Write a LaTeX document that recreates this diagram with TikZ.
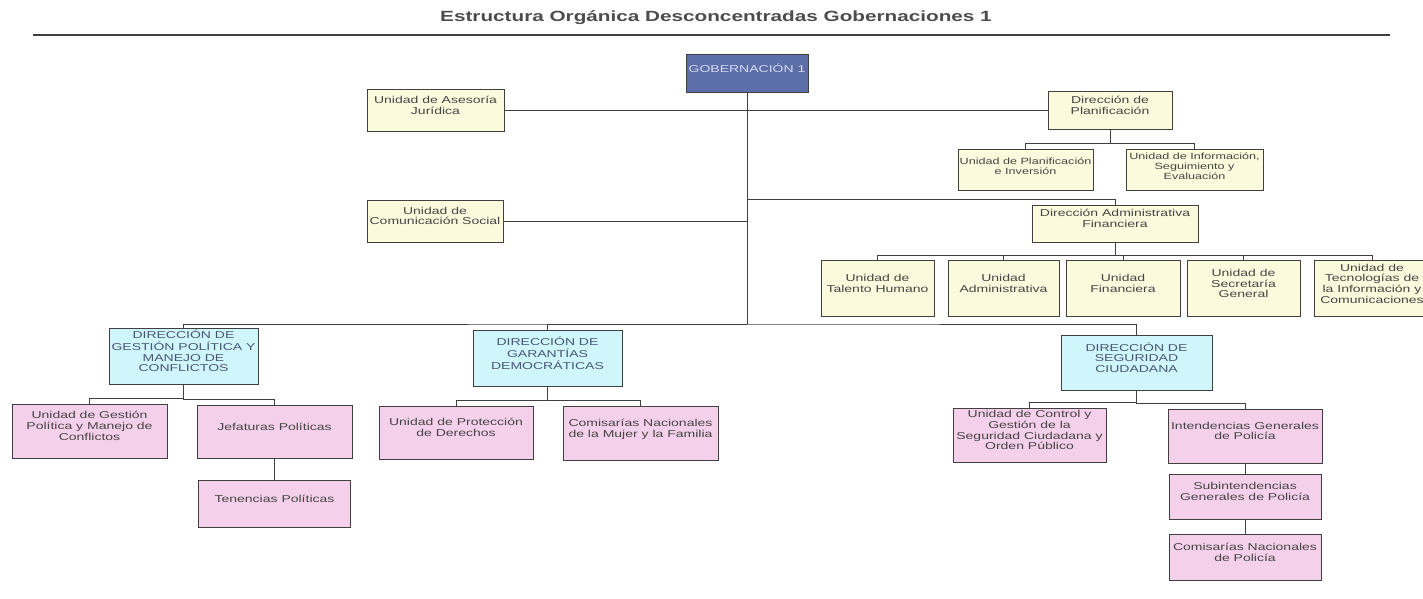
\documentclass[tikz,border=0pt]{standalone}
\usepackage{fontspec}
\setmainfont[FakeStretch=1.4]{Liberation Sans}
\usetikzlibrary{positioning}

\definecolor{govfill}{HTML}{5C6FA8}
\definecolor{govtext}{HTML}{D3DAF4}
\definecolor{unitfill}{HTML}{FCFADC}
\definecolor{dirfill}{HTML}{CFF6FA}
\definecolor{subfill}{HTML}{F5D0EA}
\definecolor{linegray}{HTML}{404040}
\definecolor{textgray}{HTML}{454545}
\definecolor{dirtext}{HTML}{4A5677}

% box text sits a little above the middle of its box
\newcommand{\boxtxt}[2][7pt]{\raisebox{0pt}[\height][\dimexpr\depth+#1\relax]{%
  \begin{tabular}{@{}c@{}}#2\end{tabular}}}

\tikzset{wh/.style 2 args={minimum width=#1pt,minimum height=#2pt}}

\begin{document}
\begin{tikzpicture}[x=1pt,y=-1pt,line width=1pt,color=linegray,node distance=10pt,
                    main node/.style={rectangle,draw=linegray,inner sep=0pt,text=textgray,
                                      font=\fontsize{10}{10.7}\selectfont},
                    unit node/.style={main node,fill=unitfill},
                    dir node/.style={main node,fill=dirfill,text=dirtext},
                    sub node/.style={main node,fill=subfill},
                    small node/.style={unit node,font=\fontsize{9}{10}\selectfont},
                    org/.style={to path={(\tikztostart.south) |- ([yshift=5pt]\tikztotarget.north) -- (\tikztotarget.north)}}]
\useasboundingbox (0,0) rectangle (1423,598);

\node[font=\fontsize{14.8}{16}\selectfont\bfseries,text=black!70] (title) at (716,18)
  {Estructura Orgánica Desconcentradas Gobernaciones 1};
\draw[line width=1.2pt] (33,35) -- (1390,35);

\node[main node,fill=govfill,text=govtext,wh={122}{38}] (1) at (747,73) {\boxtxt{GOBERNACIÓN 1}};
\node[unit node,wh={137}{42}] (2) at (435.5,110.5) {\boxtxt{Unidad de Asesoría\\Jurídica}};
\node[unit node,wh={124}{38}] (3) at (1110,110.5) {\boxtxt{Dirección de\\Planificación}};
\node[small node,wh={135}{41}] (4) at (1025.5,169.5) {\boxtxt[4pt]{Unidad de Planificación\\e Inversión}};
\node[small node,wh={137}{41}] (5) at (1194.5,169.5) {\boxtxt[4pt]{Unidad de Información,\\Seguimiento y\\Evaluación}};
\node[unit node,wh={136}{42}] (6) at (435,221) {\boxtxt{Unidad de\\Comunicación Social}};
\node[unit node,wh={166}{37}] (7) at (1115,223.5) {\boxtxt{Dirección Administrativa\\Financiera}};
\node[unit node,wh={113}{56}] (8) at (877.5,288.5) {\boxtxt{Unidad de\\Talento Humano}};
\node[unit node,wh={111}{56}] (9) at (1003.5,288.5) {\boxtxt{Unidad\\Administrativa}};
\node[unit node,wh={114}{56}] (10) at (1123,288.5) {\boxtxt{Unidad\\Financiera}};
\node[unit node,wh={113}{56}] (11) at (1243.5,288.5) {\boxtxt{Unidad de\\Secretaría\\General}};
\node[unit node,wh={116}{56}] (12) at (1372,288.5) {\boxtxt{Unidad de\\Tecnologías de\\la Información y\\Comunicaciones}};

\node[dir node,wh={149}{56}] (13) at (183.5,356) {\boxtxt{DIRECCIÓN DE\\GESTIÓN POLÍTICA Y\\MANEJO DE\\CONFLICTOS}};
\node[dir node,wh={149}{56}] (14) at (547.5,358) {\boxtxt{DIRECCIÓN DE\\GARANTÍAS\\DEMOCRÁTICAS}};
\node[dir node,wh={151}{55}] (15) at (1136.5,362.5) {\boxtxt{DIRECCIÓN DE\\SEGURIDAD\\CIUDADANA}};

\node[sub node,wh={155}{54}] (16) at (89.5,431) {\boxtxt{Unidad de Gestión\\Política y Manejo de\\Conflictos}};
\node[sub node,wh={155}{53}] (17) at (274.5,431.5) {\boxtxt{Jefaturas Políticas}};
\node[sub node,wh={152}{47}] (18) [below=21pt of 17] {\boxtxt{Tenencias Políticas}};
\node[sub node,wh={154}{53}] (19) at (456,432.5) {\boxtxt{Unidad de Protección\\de Derechos}};
\node[sub node,wh={155}{54}] (20) at (640.5,433) {\boxtxt{Comisarías Nacionales\\de la Mujer y la Familia}};
\node[sub node,wh={153}{54}] (21) at (1029.5,435) {\boxtxt{Unidad de Control y\\Gestión de la\\Seguridad Ciudadana y\\Orden Público}};
\node[sub node,wh={154}{54}] (22) at (1245,436) {\boxtxt{Intendencias Generales\\de Policía}};
\node[sub node,wh={152}{45}] (23) [below=10pt of 22] {\boxtxt{Subintendencias\\Generales de Policía}};
\node[sub node,wh={152}{46}] (24) [below=14pt of 23] {\boxtxt{Comisarías Nacionales\\de Policía}};

\coordinate (bus) at (747,324);
\coordinate (daf bus) at (747,199);

\draw (1) -- (bus);
\draw (2) -- (3);
\draw (6) -- (6 -| 1);
\draw (daf bus) -| (7.north);
\draw (13.north) |- (bus) -| (15.north);
\draw (14.north) |- (bus);

\path[org] (3) edge (4) edge (5)
(7) edge (8) edge (9) edge (10) edge (11) edge (12)
(13) edge (16) edge (17)
(14) edge (19) edge (20)
(15) edge (21) edge (22);
\draw (17) -- (18);
\draw (22) -- (23) (23) -- (24);
\end{tikzpicture}
\end{document}
